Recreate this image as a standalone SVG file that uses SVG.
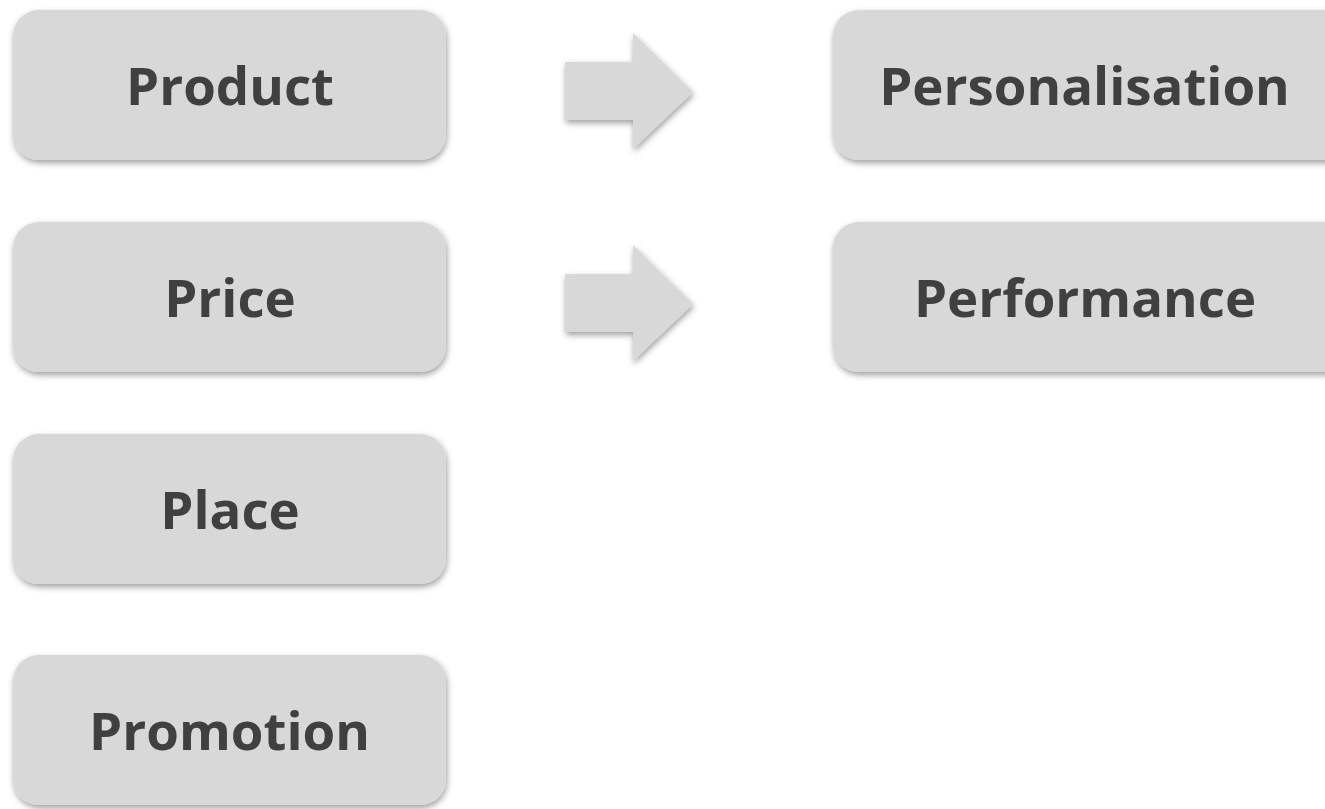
<svg xmlns="http://www.w3.org/2000/svg" width="1325" height="809" viewBox="0 0 1325 809">
<defs>
<filter id="sh" x="-10%" y="-10%" width="120%" height="130%">
<feDropShadow dx="1" dy="3" stdDeviation="3" flood-color="#000" flood-opacity="0.38"/>
</filter>
<style>
.box{fill:#d8d8d8;filter:url(#sh)}
.lbl{font-family:"Open Sans",sans-serif;font-weight:bold;font-size:52.8px;fill:#404040;text-anchor:middle}
.arr{fill:#d8d8d8;filter:url(#sh)}
</style>
</defs>
<rect width="1325" height="809" fill="#fff"/>
<g id="connectors">
<path class="arr" d="M565,62 H633 V33 L693,92 L633,149 V120 H565 Z"/>
<path class="arr" d="M565,274 H633 V245 L693,304 L633,361 V332 H565 Z"/>
</g>
<g id="product"><rect class="box" x="13" y="10" width="433" height="150" rx="26"/><text class="lbl" x="230" y="105">Product</text></g>
<g id="price"><rect class="box" x="13" y="222" width="433" height="150" rx="26"/><text class="lbl" x="230" y="317">Price</text></g>
<g id="place"><rect class="box" x="13" y="434" width="433" height="150" rx="26"/><text class="lbl" x="230" y="529">Place</text></g>
<g id="promotion"><rect class="box" x="13" y="655" width="433" height="150" rx="26"/><text class="lbl" x="229.5" y="750">Promotion</text></g>
<g id="personalisation"><rect class="box" x="833" y="10" width="520" height="150" rx="26"/><text class="lbl" x="1084.5" y="105">Personalisation</text></g>
<g id="performance"><rect class="box" x="833" y="222" width="520" height="150" rx="26"/><text class="lbl" x="1085" y="317">Performance</text></g>
</svg>
